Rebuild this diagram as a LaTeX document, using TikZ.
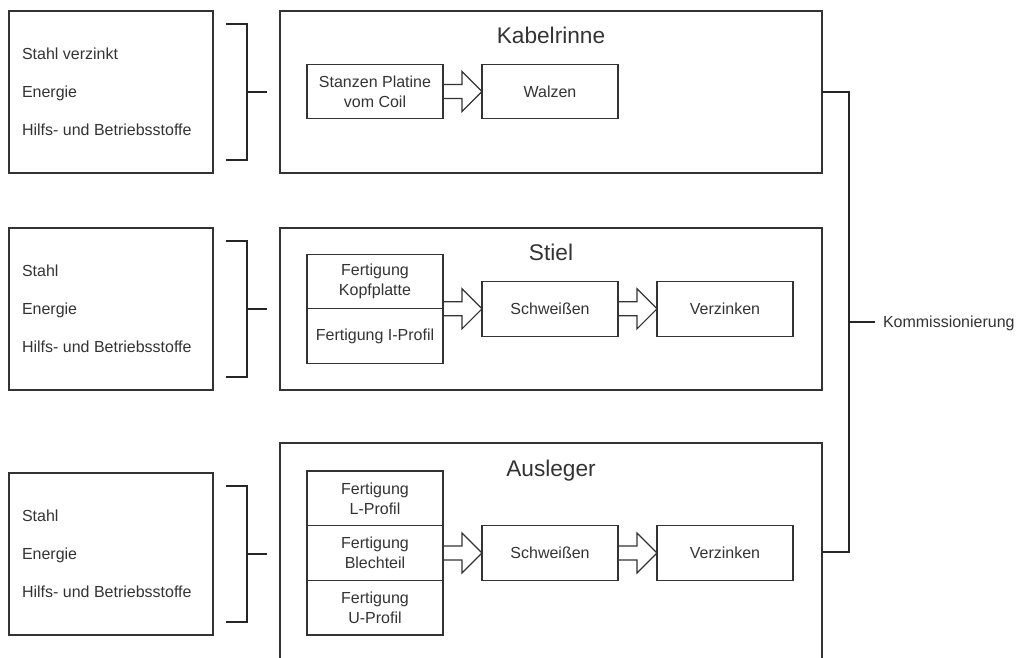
\documentclass[tikz,border=0pt]{standalone}
\usepackage{fontspec}
\setmainfont{Liberation Sans}
\usetikzlibrary{calc,positioning}

%hollow block arrow from a box edge to the next box
\newcommand{\blockarrow}[2]{%
\draw[hollowarrow] ($(#1)+(0,-7)$) -- ($(#2)+(-20,-7)$) -- ($(#2)+(-20,-20)$) -- (#2)
  -- ($(#2)+(-20,20)$) -- ($(#2)+(-20,7)$) -- ($(#1)+(0,7)$);
}

\tikzset{
  boxline/.style={draw=black!80, line width=0.9pt},
  srcbox/.style={boxline, minimum width=153pt, minimum height=121.5pt},
  srcitem/.style={anchor=west, font=\fontsize{12}{14}\selectfont, text height=8.6pt, text depth=0pt},
  stagebox/.style={boxline, minimum width=406.5pt, minimum height=121.5pt},
  stagetitle/.style={font=\fontsize{17}{20}\selectfont, text height=12.2pt, text depth=0pt},
  procbox/.style={boxline, minimum width=102pt, minimum height=41pt, align=center,
    font=\fontsize{12}{15}\selectfont},
  hollowarrow/.style={draw=black!80, line width=0.9pt, line join=miter},
  brack/.style={draw=black!85, line width=1.6pt},
}

\begin{document}
\begin{tikzpicture}[x=0.75pt,y=-0.75pt,
  every node/.style={text=black!80, inner sep=0pt, outer sep=0pt}]
%page = 1019 x 657 px
\clip (0,0) rectangle (1019,657);

%stages
\node[stagebox] (stage1) at (551,92) {};
\node[stagebox] (stage2) at (551,309) {};
\node[stagebox, minimum height=163.5pt] (stage3) at (551,552) {};
\node[stagetitle] (title1) at ($(stage1.north)+(0,24)$) {Kabelrinne};
\node[stagetitle] (title2) at ($(stage2.north)+(0,24)$) {Stiel};
\node[stagetitle] (title3) at ($(stage3.north)+(0,25)$) {Ausleger};

%inputs with brackets
\foreach \i/\y/\mat in {1/92/Stahl verzinkt,2/309/Stahl,3/554/Stahl}{
  \node[srcbox] (src\i) at (111,\y) {};
  \node[srcitem] (mat\i) at ($(src\i.west)+(13,-38)$) {\mat};
  \node[srcitem] (en\i) at ($(src\i.west)+(13,0)$) {Energie};
  \node[srcitem] (hb\i) at ($(src\i.west)+(13,38)$) {Hilfs- und Betriebsstoffe};
  \draw[brack] ($(src\i.north east)+(13,13)$) -| ($(src\i.east)+(34,0)$) coordinate (br\i)
    |- ($(src\i.south east)+(13,-13)$);
  \draw[brack] (br\i) -- ($(br\i -| stage\i.west)+(-13,0)$);
}

%Kabelrinne
\node[procbox] (stanzen) at (375,91.5) {Stanzen Platine\\vom Coil};
\node[procbox, right=29.25pt of stanzen] (walzen) {Walzen};
\blockarrow{stanzen.east}{walzen.west}

%Stiel
\node[procbox] (kopf) at (375,281.5) {Fertigung\\Kopfplatte};
\node[procbox, below=0pt of kopf] (iprofil) {Fertigung I-Profil};
\node[procbox, right=29.25pt of kopf.south east] (schweiss2) {Schweißen};
\node[procbox, right=29.25pt of schweiss2] (verz2) {Verzinken};
\blockarrow{kopf.south east}{schweiss2.west}
\blockarrow{schweiss2.east}{verz2.west}

%Ausleger
\node[procbox] (blech) at (375,553) {Fertigung\\Blechteil};
\node[procbox, above=0pt of blech] (lprofil) {Fertigung\\L-Profil};
\node[procbox, below=0pt of blech] (uprofil) {Fertigung\\U-Profil};
\node[procbox, right=29.25pt of blech] (schweiss3) {Schweißen};
\node[procbox, right=29.25pt of schweiss3] (verz3) {Verzinken};
\blockarrow{blech.east}{schweiss3.west}
\blockarrow{schweiss3.east}{verz3.west}

%Kommissionierung
\draw[brack] (stage1.east) -- ++(27,0) coordinate (rb) |- (stage3.east);
\node[srcitem] (komm) at ($(rb)+(34,230)$) {Kommissionierung};
\draw[brack] (rb |- komm.west) -- ($(komm.west)+(-8,0)$);
\end{tikzpicture}
\end{document}
